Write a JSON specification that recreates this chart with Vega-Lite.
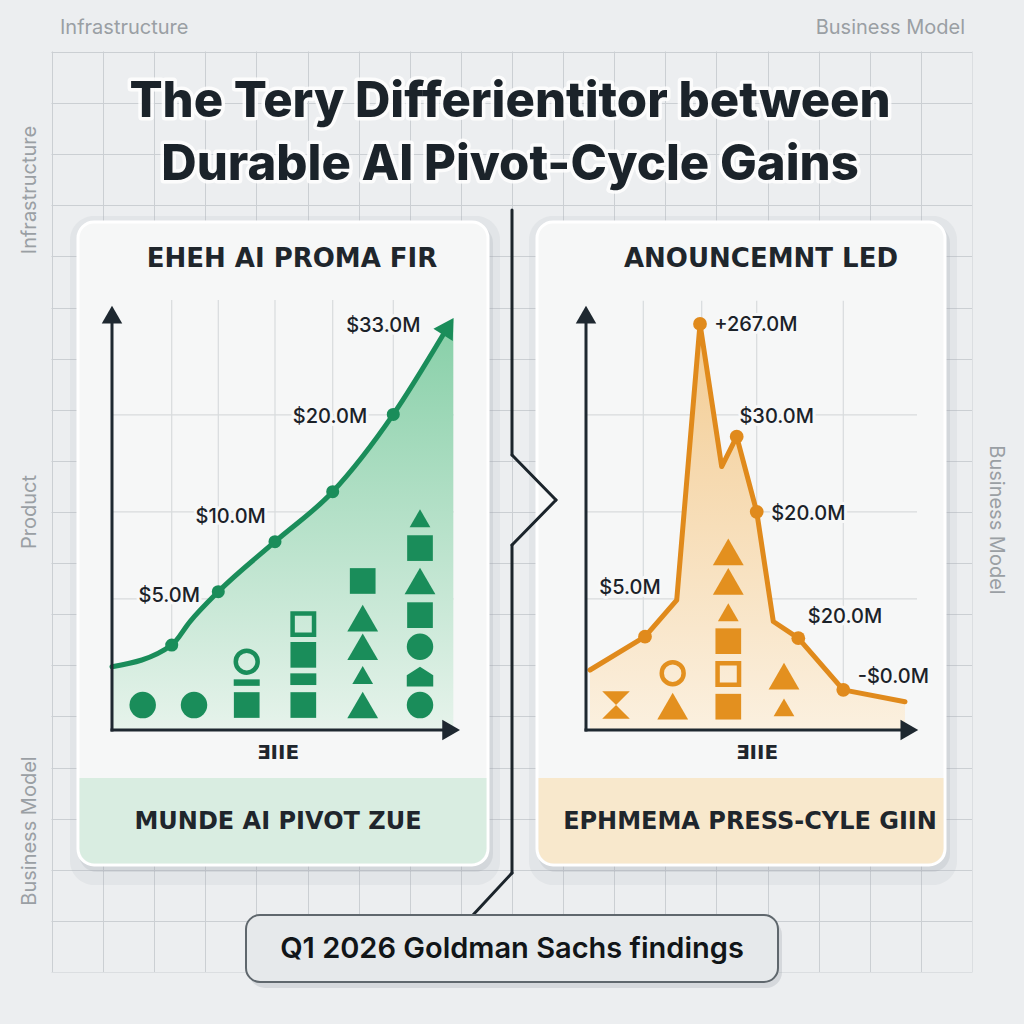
{
"$schema":"https://vega.github.io/schema/vega-lite/v6.json",
"width":1024,"height":1024,"padding":0,"autosize":{"type":"none"},
"background":"#eceef0",
"config":{"view":{"stroke":null},"text":{"font":"Inter"}},
"datasets":{
 "durable":[
  {"t":0,"v":14.8,"role":"p"},
  {"t":1.706,"v":19.9,"role":"m"},
  {"t":2.229,"v":25.4,"role":"p"},
  {"t":3.037,"v":32.4,"role":"m"},
  {"t":4.657,"v":44.1,"role":"m"},
  {"t":6.306,"v":55.8,"role":"m"},
  {"t":8.037,"v":73.9,"role":"m"},
  {"t":9.457,"v":92.5,"role":"end"},
  {"t":9.752,"v":96.4,"role":"tip"},
  {"t":9.609,"v":94.5,"role":"head"}
 ],
 "durableLabels":[
  {"t":1.637,"v":31.4,"label":"$5.0M"},
  {"t":3.391,"v":49.8,"label":"$10.0M"},
  {"t":6.229,"v":73.4,"label":"$20.0M"},
  {"t":7.751,"v":94.5,"label":"$33.0M"}
 ],
 "durableShapes":[
  {"t":0.877,"v":5.85,"kind":"circle"},
  {"t":2.343,"v":5.85,"kind":"circle"},
  {"t":3.849,"v":5.85,"kind":"square"},
  {"t":3.849,"v":11.1,"kind":"bar"},
  {"t":3.849,"v":16.0,"kind":"ring"},
  {"t":5.466,"v":5.85,"kind":"square"},
  {"t":5.466,"v":11.9,"kind":"slab"},
  {"t":5.466,"v":17.6,"kind":"square"},
  {"t":5.466,"v":24.8,"kind":"open square"},
  {"t":7.163,"v":5.85,"kind":"triangle"},
  {"t":7.163,"v":12.9,"kind":"small triangle"},
  {"t":7.163,"v":19.5,"kind":"triangle"},
  {"t":7.163,"v":26.2,"kind":"triangle"},
  {"t":7.163,"v":34.9,"kind":"square"},
  {"t":8.8,"v":5.85,"kind":"circle"},
  {"t":8.8,"v":12.5,"kind":"house"},
  {"t":8.8,"v":19.5,"kind":"circle"},
  {"t":8.8,"v":26.9,"kind":"square"},
  {"t":8.8,"v":34.9,"kind":"triangle"},
  {"t":8.8,"v":42.6,"kind":"square"},
  {"t":8.8,"v":49.6,"kind":"small triangle"}
 ],
 "durableGrid":[
  {"t":1.706},{"t":3.037},{"t":4.657},{"t":6.306},{"t":8.037},
  {"v":73.8},{"v":51.1},{"v":30.7}
 ],
 "ephemeral":[
  {"t":0.12,"v":14.05,"role":"p"},
  {"t":1.777,"v":21.85,"role":"m"},
  {"t":2.732,"v":30.4,"role":"p"},
  {"t":3.434,"v":95.1,"role":"m"},
  {"t":4.087,"v":61.7,"role":"p"},
  {"t":4.539,"v":68.7,"role":"m"},
  {"t":5.142,"v":51.1,"role":"m"},
  {"t":5.642,"v":25.4,"role":"p"},
  {"t":6.395,"v":21.5,"role":"m"},
  {"t":7.75,"v":9.4,"role":"m"},
  {"t":9.608,"v":6.6,"role":"p"}
 ],
 "ephemeralLabels":[
  {"t":5.114,"v":94.8,"label":"+267.0M"},
  {"t":5.744,"v":73.4,"label":"$30.0M"},
  {"t":6.696,"v":50.7,"label":"$20.0M"},
  {"t":1.325,"v":33.3,"label":"$5.0M"},
  {"t":7.801,"v":26.5,"label":"$20.0M"},
  {"t":9.256,"v":12.5,"label":"-$0.0M"}
 ],
 "ephemeralShapes":[
  {"t":0.904,"v":5.85,"kind":"hourglass"},
  {"t":2.611,"v":5.6,"kind":"triangle"},
  {"t":2.611,"v":13.3,"kind":"ring"},
  {"t":4.286,"v":5.46,"kind":"square"},
  {"t":4.286,"v":13.1,"kind":"open square"},
  {"t":4.286,"v":20.8,"kind":"square"},
  {"t":4.286,"v":27.6,"kind":"small triangle"},
  {"t":4.286,"v":34.8,"kind":"triangle"},
  {"t":4.286,"v":41.7,"kind":"triangle"},
  {"t":5.964,"v":12.6,"kind":"triangle"},
  {"t":5.964,"v":5.3,"kind":"small triangle"}
 ],
 "ephemeralGrid":[
  {"t":1.726},{"t":3.485},{"t":5.142},{"t":7.75},
  {"v":73.8},{"v":51.1},{"v":30.7}
 ]
},
"layer":[
 {"data":{"values":[{}]},
  "mark":{"type":"point","opacity":0},
  "encoding":{
   "x":{"datum":512,"type":"quantitative","scale":{"domain":[0,1024],"nice":false,"zero":false},"axis":{"grid":true,"values":[52,103.1,154.2,205.3,256.4,307.6,358.7,409.8,460.9,512,563.1,614.2,665.3,716.4,767.6,818.7,869.8,920.9,972],"gridColor":"#cbcfd3","gridWidth":1,"labels":false,"ticks":false,"domain":false,"title":null}},
   "y":{"datum":512,"type":"quantitative","scale":{"domain":[0,1024],"reverse":true,"nice":false,"zero":false},"axis":{"grid":true,"values":[52,103.1,154.2,205.3,256.4,307.6,358.7,409.8,460.9,512,563.1,614.2,665.3,716.4,767.6,818.7,869.8,920.9,972],"gridColor":"#cbcfd3","gridWidth":1,"labels":false,"ticks":false,"domain":false,"title":null}}}},
 {"data":{"values":[{}]},
  "layer":[
   {"mark":{"type":"rect","color":"#eceef0"},
    "encoding":{
     "x":{"datum":0,"type":"quantitative","scale":{"domain":[0,1024],"nice":false,"zero":false},"axis":null},
     "x2":{"datum":51.5},
     "y":{"datum":0,"type":"quantitative","scale":{"domain":[0,1024],"reverse":true,"nice":false,"zero":false},"axis":null},
     "y2":{"datum":1024}}},
   {"mark":{"type":"rect","color":"#eceef0"},
    "encoding":{"x":{"datum":972.5,"axis":null},"x2":{"datum":1024},"y":{"datum":0,"axis":null},"y2":{"datum":1024}}},
   {"mark":{"type":"rect","color":"#eceef0"},
    "encoding":{"x":{"datum":0,"axis":null},"x2":{"datum":1024},"y":{"datum":0,"axis":null},"y2":{"datum":51.5}}},
   {"mark":{"type":"rect","color":"#eceef0"},
    "encoding":{"x":{"datum":0,"axis":null},"x2":{"datum":1024},"y":{"datum":972.5,"axis":null},"y2":{"datum":1024}}},

   {"mark":{"type":"rect","color":"#a9b0b6","opacity":0.14,"cornerRadius":24},
    "encoding":{"x":{"datum":70,"axis":null},"x2":{"datum":500},"y":{"datum":216,"axis":null},"y2":{"datum":885}}},
   {"mark":{"type":"rect","color":"#9aa2a8","opacity":0.2,"cornerRadius":18},
    "encoding":{"x":{"datum":79,"axis":null},"x2":{"datum":493},"y":{"datum":225,"axis":null},"y2":{"datum":872}}},
   {"mark":{"type":"rect","color":"#a9b0b6","opacity":0.14,"cornerRadius":24},
    "encoding":{"x":{"datum":529,"axis":null},"x2":{"datum":957},"y":{"datum":216,"axis":null},"y2":{"datum":885}}},
   {"mark":{"type":"rect","color":"#9aa2a8","opacity":0.2,"cornerRadius":18},
    "encoding":{"x":{"datum":538,"axis":null},"x2":{"datum":950},"y":{"datum":225,"axis":null},"y2":{"datum":872}}},

   {"mark":{"type":"rect","fill":"#f6f7f7","stroke":"#ffffff","strokeWidth":3,"cornerRadius":16},
    "encoding":{"x":{"datum":78,"axis":null},"x2":{"datum":488},"y":{"datum":222,"axis":null},"y2":{"datum":865}}},
   {"mark":{"type":"rect","fill":"#f6f7f7","stroke":"#ffffff","strokeWidth":3,"cornerRadius":16},
    "encoding":{"x":{"datum":537,"axis":null},"x2":{"datum":945},"y":{"datum":222,"axis":null},"y2":{"datum":865}}},
   {"mark":{"type":"rect","fill":"#d9ede1","cornerRadiusBottomLeft":15,"cornerRadiusBottomRight":15},
    "encoding":{"x":{"datum":79.5,"axis":null},"x2":{"datum":486.5},"y":{"datum":778,"axis":null},"y2":{"datum":863.5}}},
   {"mark":{"type":"rect","fill":"#f8e8cc","cornerRadiusBottomLeft":15,"cornerRadiusBottomRight":15},
    "encoding":{"x":{"datum":538.5,"axis":null},"x2":{"datum":943.5},"y":{"datum":778,"axis":null},"y2":{"datum":863.5}}},

   {"mark":{"type":"text","text":"Infrastructure","fontSize":20,"color":"#9a9fa4","align":"left","baseline":"middle"},
    "encoding":{"x":{"datum":60,"axis":null},"y":{"datum":28,"axis":null}}},
   {"mark":{"type":"text","text":"Business Model","fontSize":20,"color":"#9a9fa4","align":"right","baseline":"middle"},
    "encoding":{"x":{"datum":965,"axis":null},"y":{"datum":28,"axis":null}}},
   {"mark":{"type":"text","text":"Infrastructure","fontSize":20,"color":"#9a9fa4","align":"center","baseline":"middle","angle":270},
    "encoding":{"x":{"datum":30,"axis":null},"y":{"datum":190,"axis":null}}},
   {"mark":{"type":"text","text":"Product","fontSize":20,"color":"#9a9fa4","align":"center","baseline":"middle","angle":270},
    "encoding":{"x":{"datum":30,"axis":null},"y":{"datum":512,"axis":null}}},
   {"mark":{"type":"text","text":"Business Model","fontSize":20,"color":"#9a9fa4","align":"center","baseline":"middle","angle":270},
    "encoding":{"x":{"datum":30,"axis":null},"y":{"datum":831,"axis":null}}},
   {"mark":{"type":"text","text":"Business Model","fontSize":20,"color":"#9a9fa4","align":"center","baseline":"middle","angle":90},
    "encoding":{"x":{"datum":996,"axis":null},"y":{"datum":520,"axis":null}}},

   {"mark":{"type":"text","text":["The Tery Differientitor between","Durable AI Pivot-Cycle Gains"],"lineHeight":63,"fontSize":49,"fontWeight":800,"align":"center","baseline":"alphabetic","fill":"#ffffff","stroke":"#ffffff","strokeWidth":7,"strokeJoin":"round","opacity":0.85},
    "encoding":{"x":{"datum":510,"axis":null},"y":{"datum":117,"axis":null}}},
   {"mark":{"type":"text","text":["The Tery Differientitor between","Durable AI Pivot-Cycle Gains"],"lineHeight":63,"fontSize":49,"fontWeight":800,"align":"center","baseline":"alphabetic","color":"#1b232a"},
    "encoding":{"x":{"datum":510,"axis":null},"y":{"datum":117,"axis":null}}},

   {"mark":{"type":"text","text":"EHEH AI PROMA FIR","font":"DejaVu Sans","fontSize":26,"fontWeight":"bold","color":"#1f262c","align":"center","baseline":"middle","letterSpacing":0.5},
    "encoding":{"x":{"datum":292,"axis":null},"y":{"datum":259,"axis":null}}},
   {"mark":{"type":"text","text":"ANOUNCEMNT LED","font":"DejaVu Sans","fontSize":26,"fontWeight":"bold","color":"#1f262c","align":"center","baseline":"middle","letterSpacing":3.3},
    "encoding":{"x":{"datum":761,"axis":null},"y":{"datum":259,"axis":null}}},
   {"mark":{"type":"text","text":"MUNDE AI PIVOT ZUE","font":"DejaVu Sans","fontSize":24,"fontWeight":"bold","color":"#1f262c","align":"center","baseline":"middle"},
    "encoding":{"x":{"datum":278,"axis":null},"y":{"datum":822,"axis":null}}},
   {"mark":{"type":"text","text":"EPHMEMA PRESS-CYLE GIIN","font":"DejaVu Sans","fontSize":24,"fontWeight":"bold","color":"#1f262c","align":"center","baseline":"middle"},
    "encoding":{"x":{"datum":750,"axis":null},"y":{"datum":822,"axis":null}}},
   {"mark":{"type":"text","text":"ƎIIE","font":"DejaVu Sans","fontSize":20,"fontWeight":"bold","color":"#1f262c","align":"center","baseline":"middle"},
    "encoding":{"x":{"datum":278,"axis":null},"y":{"datum":753,"axis":null}}},
   {"mark":{"type":"text","text":"ƎIIE","font":"DejaVu Sans","fontSize":20,"fontWeight":"bold","color":"#1f262c","align":"center","baseline":"middle"},
    "encoding":{"x":{"datum":757,"axis":null},"y":{"datum":753,"axis":null}}},

   {"mark":{"type":"rule","color":"#1b242b","strokeWidth":3,"strokeCap":"round"},
    "encoding":{"x":{"datum":512,"axis":null},"y":{"datum":210,"axis":null},"x2":{"datum":512},"y2":{"datum":455}}},
   {"mark":{"type":"rule","color":"#1b242b","strokeWidth":3,"strokeCap":"round"},
    "encoding":{"x":{"datum":512,"axis":null},"y":{"datum":455,"axis":null},"x2":{"datum":556},"y2":{"datum":500}}},
   {"mark":{"type":"rule","color":"#1b242b","strokeWidth":3,"strokeCap":"round"},
    "encoding":{"x":{"datum":556,"axis":null},"y":{"datum":500,"axis":null},"x2":{"datum":512},"y2":{"datum":545}}},
   {"mark":{"type":"rule","color":"#1b242b","strokeWidth":3,"strokeCap":"round"},
    "encoding":{"x":{"datum":512,"axis":null},"y":{"datum":545,"axis":null},"x2":{"datum":512},"y2":{"datum":873}}},
   {"mark":{"type":"rule","color":"#1b242b","strokeWidth":3,"strokeCap":"round"},
    "encoding":{"x":{"datum":512,"axis":null},"y":{"datum":873,"axis":null},"x2":{"datum":473},"y2":{"datum":915}}},

   {"mark":{"type":"rect","color":"#9aa2a8","opacity":0.28,"cornerRadius":16},
    "encoding":{"x":{"datum":249,"axis":null},"x2":{"datum":782},"y":{"datum":919,"axis":null},"y2":{"datum":988}}},
   {"mark":{"type":"rect","fill":"#e6e9eb","stroke":"#5f676d","strokeWidth":2,"cornerRadius":14},
    "encoding":{"x":{"datum":246,"axis":null},"x2":{"datum":778},"y":{"datum":915,"axis":null},"y2":{"datum":982}}},
   {"mark":{"type":"text","text":"Q1 2026 Goldman Sachs findings","fontSize":29,"fontWeight":600,"color":"#111518","align":"center","baseline":"middle"},
    "encoding":{"x":{"datum":512,"axis":null},"y":{"datum":949,"axis":null}}}
  ]},

 {"layer":[
   {"data":{"name":"durableGrid"},"transform":[{"filter":"isValid(datum.t)"}],
    "mark":{"type":"rule","color":"#d8dbdd","strokeWidth":1.2},
    "encoding":{
     "x":{"field":"t","type":"quantitative","scale":{"domain":[-3.2,26.057],"nice":false,"zero":false},"axis":null},
     "y":{"datum":0,"type":"quantitative","scale":{"domain":[-68.852,170.96],"nice":false,"zero":false},"axis":null},
     "y2":{"datum":100.7}}},
   {"data":{"name":"durableGrid"},"transform":[{"filter":"isValid(datum.v)"}],
    "mark":{"type":"rule","color":"#d8dbdd","strokeWidth":1.2},
    "encoding":{"y":{"field":"v","type":"quantitative","axis":null},"x":{"datum":0,"axis":null},"x2":{"datum":9.76}}},
   {"data":{"name":"durable"},"transform":[{"filter":"datum.role != 'head'"}],
    "mark":{"type":"area","interpolate":"monotone","color":{"gradient":"linear","x1":0,"y1":0,"x2":0,"y2":1,"stops":[{"offset":0,"color":"#86cfa7"},{"offset":1,"color":"#e6f3eb"}]}},
    "encoding":{"x":{"field":"t","type":"quantitative","axis":null},"y":{"field":"v","type":"quantitative","axis":null},"y2":{"datum":0}}},
   {"data":{"name":"durable"},"transform":[{"filter":"datum.role != 'head' && datum.role != 'tip'"}],
    "mark":{"type":"line","interpolate":"monotone","color":"#1a8d5a","strokeWidth":5,"strokeJoin":"round","strokeCap":"round"},
    "encoding":{"x":{"field":"t","type":"quantitative","axis":null},"y":{"field":"v","type":"quantitative","axis":null}}},
   {"data":{"name":"durable"},"transform":[{"filter":"datum.role == 'head'"}],
    "mark":{"type":"point","shape":"triangle-up","filled":true,"color":"#1a8d5a","size":520,"angle":32,"opacity":1},
    "encoding":{"x":{"field":"t","type":"quantitative","axis":null},"y":{"field":"v","type":"quantitative","axis":null}}},
   {"data":{"name":"durable"},"transform":[{"filter":"datum.role == 'm'"}],
    "mark":{"type":"point","shape":"circle","filled":true,"color":"#1a8d5a","size":170,"opacity":1},
    "encoding":{"x":{"field":"t","type":"quantitative","axis":null},"y":{"field":"v","type":"quantitative","axis":null}}},
   {"data":{"name":"durableShapes"},"transform":[{"filter":"datum.kind != 'ring' && datum.kind != 'open square'"}],
    "mark":{"type":"point","filled":true,"color":"#1a8d5a","opacity":1},
    "encoding":{"x":{"field":"t","type":"quantitative","axis":null},"y":{"field":"v","type":"quantitative","axis":null},
     "shape":{"field":"kind","type":"nominal","legend":null,"scale":{"domain":["circle","square","triangle","small triangle","bar","slab","house","hourglass"],"range":["circle","square","triangle-up","triangle-up","M-1,-0.25H1V0.25H-1Z","M-1,-0.45H1V0.45H-1Z","M0,-0.75L1,-0.1L1,0.75L-1,0.75L-1,-0.1Z","M-1,-1L1,-1L0,0L1,1L-1,1L0,0Z"]}},
     "size":{"field":"kind","type":"nominal","legend":null,"scale":{"type":"ordinal","domain":["circle","square","triangle","small triangle","bar","slab","house","hourglass"],"range":[700,660,950,430,676,676,700,760]}}}},
   {"data":{"name":"durableShapes"},"transform":[{"filter":"datum.kind == 'ring'"}],
    "mark":{"type":"point","shape":"circle","size":480,"filled":false,"color":"#1a8d5a","strokeWidth":4.5,"opacity":1},
    "encoding":{"x":{"field":"t","type":"quantitative","axis":null},"y":{"field":"v","type":"quantitative","axis":null}}},
   {"data":{"name":"durableShapes"},"transform":[{"filter":"datum.kind == 'open square'"}],
    "mark":{"type":"point","shape":"square","size":460,"filled":false,"color":"#1a8d5a","strokeWidth":4.5,"opacity":1},
    "encoding":{"x":{"field":"t","type":"quantitative","axis":null},"y":{"field":"v","type":"quantitative","axis":null}}},
   {"data":{"name":"durableLabels"},
    "mark":{"type":"text","fontSize":20,"fontWeight":500,"fill":"#f7f8f8","stroke":"#f7f8f8","strokeWidth":6,"strokeJoin":"round","align":"center","baseline":"middle"},
    "encoding":{"x":{"field":"t","type":"quantitative","axis":null},"y":{"field":"v","type":"quantitative","axis":null},"text":{"field":"label"}}},
   {"data":{"name":"durableLabels"},
    "mark":{"type":"text","fontSize":20,"fontWeight":500,"color":"#1b2229","align":"center","baseline":"middle"},
    "encoding":{"x":{"field":"t","type":"quantitative","axis":null},"y":{"field":"v","type":"quantitative","axis":null},"text":{"field":"label"}}},
   {"data":{"values":[{}]},
    "mark":{"type":"rule","color":"#1e2830","strokeWidth":3,"strokeCap":"square"},
    "encoding":{"x":{"datum":0,"axis":null},"y":{"datum":0,"axis":null},"y2":{"datum":96}}},
   {"data":{"values":[{}]},
    "mark":{"type":"rule","color":"#1e2830","strokeWidth":3,"strokeCap":"square"},
    "encoding":{"x":{"datum":0,"axis":null},"x2":{"datum":9.6},"y":{"datum":0,"axis":null}}},
   {"data":{"values":[{}]},
    "mark":{"type":"point","shape":"triangle-up","filled":true,"color":"#1e2830","size":420,"opacity":1},
    "encoding":{"x":{"datum":0,"axis":null},"y":{"datum":97.3,"axis":null}}},
   {"data":{"values":[{}]},
    "mark":{"type":"point","shape":"triangle-right","filled":true,"color":"#1e2830","size":420,"opacity":1},
    "encoding":{"x":{"datum":9.69,"axis":null},"y":{"datum":0,"axis":null}}}
 ]},

 {"layer":[
   {"data":{"name":"ephemeralGrid"},"transform":[{"filter":"isValid(datum.t)"}],
    "mark":{"type":"rule","color":"#d8dbdd","strokeWidth":1.2},
    "encoding":{
     "x":{"field":"t","type":"quantitative","scale":{"domain":[-17.651,13.193],"nice":false,"zero":false},"axis":null},
     "y":{"datum":0,"type":"quantitative","scale":{"domain":[-68.852,170.96],"nice":false,"zero":false},"axis":null},
     "y2":{"datum":100.5}}},
   {"data":{"name":"ephemeralGrid"},"transform":[{"filter":"isValid(datum.v)"}],
    "mark":{"type":"rule","color":"#d8dbdd","strokeWidth":1.2},
    "encoding":{"y":{"field":"v","type":"quantitative","axis":null},"x":{"datum":0,"axis":null},"x2":{"datum":9.97}}},
   {"data":{"name":"ephemeral"},
    "mark":{"type":"area","color":{"gradient":"linear","x1":0,"y1":0,"x2":0,"y2":1,"stops":[{"offset":0,"color":"#f3cc93"},{"offset":1,"color":"#fbf0df"}]}},
    "encoding":{"x":{"field":"t","type":"quantitative","axis":null},"y":{"field":"v","type":"quantitative","axis":null},"y2":{"datum":0}}},
   {"data":{"name":"ephemeral"},
    "mark":{"type":"line","color":"#e08a1c","strokeWidth":5,"strokeJoin":"round","strokeCap":"round"},
    "encoding":{"x":{"field":"t","type":"quantitative","axis":null},"y":{"field":"v","type":"quantitative","axis":null}}},
   {"data":{"name":"ephemeral"},"transform":[{"filter":"datum.role == 'm'"}],
    "mark":{"type":"point","shape":"circle","filled":true,"color":"#e08a1c","size":190,"opacity":1},
    "encoding":{"x":{"field":"t","type":"quantitative","axis":null},"y":{"field":"v","type":"quantitative","axis":null}}},
   {"data":{"name":"ephemeralShapes"},"transform":[{"filter":"datum.kind != 'ring' && datum.kind != 'open square'"}],
    "mark":{"type":"point","filled":true,"color":"#e3901f","opacity":1},
    "encoding":{"x":{"field":"t","type":"quantitative","axis":null},"y":{"field":"v","type":"quantitative","axis":null},
     "shape":{"field":"kind","type":"nominal","legend":null,"scale":{"domain":["circle","square","triangle","small triangle","bar","slab","house","hourglass"],"range":["circle","square","triangle-up","triangle-up","M-1,-0.25H1V0.25H-1Z","M-1,-0.45H1V0.45H-1Z","M0,-0.75L1,-0.1L1,0.75L-1,0.75L-1,-0.1Z","M-1,-1L1,-1L0,0L1,1L-1,1L0,0Z"]}},
     "size":{"field":"kind","type":"nominal","legend":null,"scale":{"type":"ordinal","domain":["circle","square","triangle","small triangle","bar","slab","house","hourglass"],"range":[700,660,950,430,676,676,700,760]}}}},
   {"data":{"name":"ephemeralShapes"},"transform":[{"filter":"datum.kind == 'ring'"}],
    "mark":{"type":"point","shape":"circle","size":480,"filled":false,"color":"#e3901f","strokeWidth":4.5,"opacity":1},
    "encoding":{"x":{"field":"t","type":"quantitative","axis":null},"y":{"field":"v","type":"quantitative","axis":null}}},
   {"data":{"name":"ephemeralShapes"},"transform":[{"filter":"datum.kind == 'open square'"}],
    "mark":{"type":"point","shape":"square","size":460,"filled":false,"color":"#e3901f","strokeWidth":4.5,"opacity":1},
    "encoding":{"x":{"field":"t","type":"quantitative","axis":null},"y":{"field":"v","type":"quantitative","axis":null}}},
   {"data":{"name":"ephemeralLabels"},
    "mark":{"type":"text","fontSize":20,"fontWeight":500,"fill":"#f7f8f8","stroke":"#f7f8f8","strokeWidth":6,"strokeJoin":"round","align":"center","baseline":"middle"},
    "encoding":{"x":{"field":"t","type":"quantitative","axis":null},"y":{"field":"v","type":"quantitative","axis":null},"text":{"field":"label"}}},
   {"data":{"name":"ephemeralLabels"},
    "mark":{"type":"text","fontSize":20,"fontWeight":500,"color":"#1b2229","align":"center","baseline":"middle"},
    "encoding":{"x":{"field":"t","type":"quantitative","axis":null},"y":{"field":"v","type":"quantitative","axis":null},"text":{"field":"label"}}},
   {"data":{"values":[{}]},
    "mark":{"type":"rule","color":"#1e2830","strokeWidth":3,"strokeCap":"square"},
    "encoding":{"x":{"datum":0,"axis":null},"y":{"datum":0,"axis":null},"y2":{"datum":96}}},
   {"data":{"values":[{}]},
    "mark":{"type":"rule","color":"#1e2830","strokeWidth":3,"strokeCap":"square"},
    "encoding":{"x":{"datum":0,"axis":null},"x2":{"datum":9.6},"y":{"datum":0,"axis":null}}},
   {"data":{"values":[{}]},
    "mark":{"type":"point","shape":"triangle-up","filled":true,"color":"#1e2830","size":420,"opacity":1},
    "encoding":{"x":{"datum":0,"axis":null},"y":{"datum":97.3,"axis":null}}},
   {"data":{"values":[{}]},
    "mark":{"type":"point","shape":"triangle-right","filled":true,"color":"#1e2830","size":420,"opacity":1},
    "encoding":{"x":{"datum":9.74,"axis":null},"y":{"datum":0,"axis":null}}}
 ]}
],
"resolve":{"scale":{"x":"independent","y":"independent","shape":"independent","size":"independent"}}
}
